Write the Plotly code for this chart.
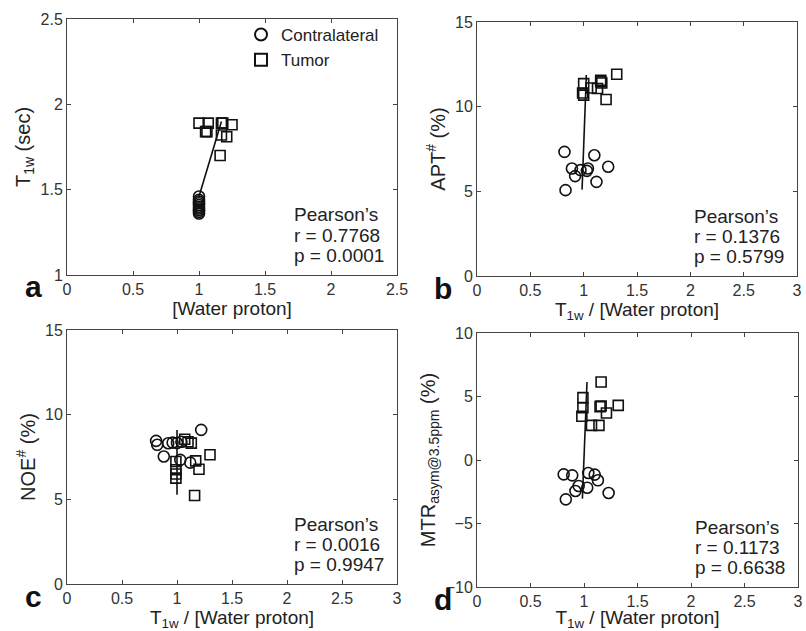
import plotly.graph_objects as go

# ---------------- data ----------------
# Panel a: T1w (sec) vs [Water proton]
a_contra_x = [1.00, 1.00, 1.00, 1.00, 1.00, 1.00, 1.00, 1.00, 1.00, 1.00]
a_contra_y = [1.46, 1.44, 1.43, 1.42, 1.41, 1.40, 1.39, 1.38, 1.37, 1.36]
a_tumor_x = [1.00, 1.07, 1.05, 1.06, 1.17, 1.18, 1.25, 1.17, 1.21, 1.16]
a_tumor_y = [1.89, 1.89, 1.84, 1.84, 1.89, 1.89, 1.88, 1.82, 1.81, 1.70]
a_fit_x = [1.00, 1.17]
a_fit_y = [1.46, 1.90]

# Panel b: APT# (%) vs T1w/[Water proton]
b_contra_x = [0.82, 1.10, 0.89, 0.92, 0.97, 1.04, 1.03, 1.23, 1.12, 0.83]
b_contra_y = [7.33, 7.13, 6.35, 5.90, 6.25, 6.35, 6.21, 6.45, 5.56, 5.07]
b_tumor_x = [1.31, 1.00, 1.16, 1.17, 1.07, 1.13, 0.99, 1.00, 1.21, 1.16]
b_tumor_y = [11.91, 11.36, 11.56, 11.40, 11.10, 11.07, 10.81, 10.68, 10.42, 11.48]
b_fit_x = [0.985, 1.025]
b_fit_y = [5.10, 11.87]

# Panel c: NOE# (%) vs T1w/[Water proton]
c_contra_x = [0.81, 0.82, 0.92, 0.96, 0.88, 1.03, 1.12, 1.22, 1.04, 1.00]
c_contra_y = [8.45, 8.22, 8.31, 8.35, 7.53, 7.33, 7.17, 9.10, 8.40, 8.33]
c_tumor_x = [1.07, 1.13, 1.10, 1.30, 1.17, 1.20, 1.16, 0.99, 0.99, 0.99, 0.99]
c_tumor_y = [8.55, 8.32, 8.40, 7.63, 7.27, 6.78, 5.23, 7.23, 6.75, 6.50, 6.25]
c_fit_x = [1.00, 1.00]
c_fit_y = [5.27, 9.10]

# Panel d: MTRasym@3.5ppm (%) vs T1w/[Water proton]
d_contra_x = [0.81, 0.89, 1.04, 1.10, 1.13, 0.95, 0.92, 1.03, 1.23, 0.83]
d_contra_y = [-1.13, -1.21, -1.02, -1.15, -1.60, -2.05, -2.44, -2.18, -2.60, -3.10]
d_tumor_x = [1.16, 0.99, 0.99, 0.98, 1.07, 1.14, 1.16, 1.21, 1.32, 1.15]
d_tumor_y = [6.14, 4.91, 4.12, 3.44, 2.73, 2.73, 4.25, 3.70, 4.30, 4.20]
d_fit_x = [0.985, 1.028]
d_fit_y = [-3.04, 6.14]

panel_letters = ["a", "b", "c", "d"]
pearson_r = ["0.7768", "0.1376", "0.0016", "0.1173"]
pearson_p = ["0.0001", "0.5799", "0.9947", "0.6638"]

# ---------------- figure ----------------
W, H = 806, 631
FONT = "Liberation Sans, Arial, sans-serif"
TXT = "#222222"

def px2fx(px):
    return px / W

def px2fy(py):
    return 1 - py / H

fig = go.Figure()

panels = [
    (a_contra_x, a_contra_y, a_tumor_x, a_tumor_y, a_fit_x, a_fit_y),
    (b_contra_x, b_contra_y, b_tumor_x, b_tumor_y, b_fit_x, b_fit_y),
    (c_contra_x, c_contra_y, c_tumor_x, c_tumor_y, c_fit_x, c_fit_y),
    (d_contra_x, d_contra_y, d_tumor_x, d_tumor_y, d_fit_x, d_fit_y),
]

for i, (cx, cy, tx, ty, fx, fy) in enumerate(panels):
    sfx = "" if i == 0 else str(i + 1)
    xa, ya = "x" + sfx, "y" + sfx
    fig.add_trace(go.Scatter(x=fx, y=fy, mode="lines", xaxis=xa, yaxis=ya,
                             line=dict(color="#111111", width=1.6),
                             showlegend=False, hoverinfo="skip"))
    fig.add_trace(go.Scatter(x=cx, y=cy, mode="markers", xaxis=xa, yaxis=ya,
                             name="Contralateral", showlegend=(i == 0),
                             marker=dict(symbol="circle-open", size=11,
                                         color="#111111", line=dict(width=1.6))))
    fig.add_trace(go.Scatter(x=tx, y=ty, mode="markers", xaxis=xa, yaxis=ya,
                             name="Tumor", showlegend=(i == 0),
                             marker=dict(symbol="square-open", size=10,
                                         color="#111111", line=dict(width=1.6))))

axis_common = dict(showline=True, linecolor="#444444", linewidth=1,
                   mirror="ticks", ticks="inside", ticklen=4, tickcolor="#444444",
                   showgrid=False, zeroline=False, automargin=False,
                   tickfont=dict(family=FONT, size=16, color="#333333"))

# plot-area pixel boxes: (left, right, top, bottom)
boxes = [(67, 397, 19, 275), (477, 797, 22, 276),
         (67, 397, 330, 584), (477, 798, 333, 587)]
xranges = [[0, 2.5], [0, 3], [0, 3], [0, 3]]
yranges = [[1, 2.5], [0, 15], [0, 15], [-10, 10]]
xtitles = ["[Water proton]", "T<sub>1w</sub> / [Water proton]",
           "T<sub>1w</sub> / [Water proton]", "T<sub>1w</sub> / [Water proton]"]
ytitles = ["T<sub>1w</sub> (sec)", "APT<sup>#</sup> (%)",
           "NOE<sup>#</sup> (%)", "MTR<sub>asym@3.5ppm</sub> (%)"]

layout = {}
for i in range(4):
    sfx = "" if i == 0 else str(i + 1)
    l, r, t, b = boxes[i]
    layout["xaxis" + sfx] = dict(axis_common, domain=[px2fx(l), px2fx(r)],
                                 range=xranges[i], dtick=0.5,
                                 anchor="y" + sfx,
                                 title=dict(text=xtitles[i], standoff=2,
                                            font=dict(family=FONT, size=19, color=TXT)))
    layout["yaxis" + sfx] = dict(axis_common, domain=[px2fy(b), px2fy(t)],
                                 range=yranges[i],
                                 dtick=0.5 if i == 0 else 5,
                                 anchor="x" + sfx,
                                 title=dict(text=ytitles[i], standoff=4,
                                            font=dict(family=FONT, size=20, color=TXT)))

annotations = []
for i in range(4):
    l, r, t, b = boxes[i]
    lines = ["Pearson’s", "r = " + pearson_r[i], "p = " + pearson_p[i]]
    for k, s in enumerate(lines):
        annotations.append(dict(
            xref="paper", yref="paper", x=px2fx(r - 105), y=px2fy(b - 60 + 20 * k),
            xanchor="left", yanchor="middle", align="left", showarrow=False,
            text=s, font=dict(family=FONT, size=19, color=TXT)))
    annotations.append(dict(
        xref="paper", yref="paper", x=px2fx(l - 34), y=px2fy(b + 12),
        xanchor="center", yanchor="middle", showarrow=False,
        text="<b>%s</b>" % panel_letters[i],
        font=dict(family=FONT, size=30, color="#111111")))

fig.update_layout(
    width=W, height=H,
    margin=dict(l=0, r=0, t=0, b=0, autoexpand=False),
    paper_bgcolor="white", plot_bgcolor="white",
    font=dict(family=FONT, color=TXT),
    annotations=annotations,
    legend=dict(x=px2fx(241), y=px2fy(17), xanchor="left", yanchor="top",
                bgcolor="rgba(0,0,0,0)", borderwidth=0,
                font=dict(family=FONT, size=17, color=TXT),
                itemsizing="constant", tracegroupgap=0),
    showlegend=True,
    **layout,
)

fig.write_html("out.html",
               config={"displayModeBar": False},
               post_script="document.body.style.margin='0px';document.body.style.overflow='hidden';")
